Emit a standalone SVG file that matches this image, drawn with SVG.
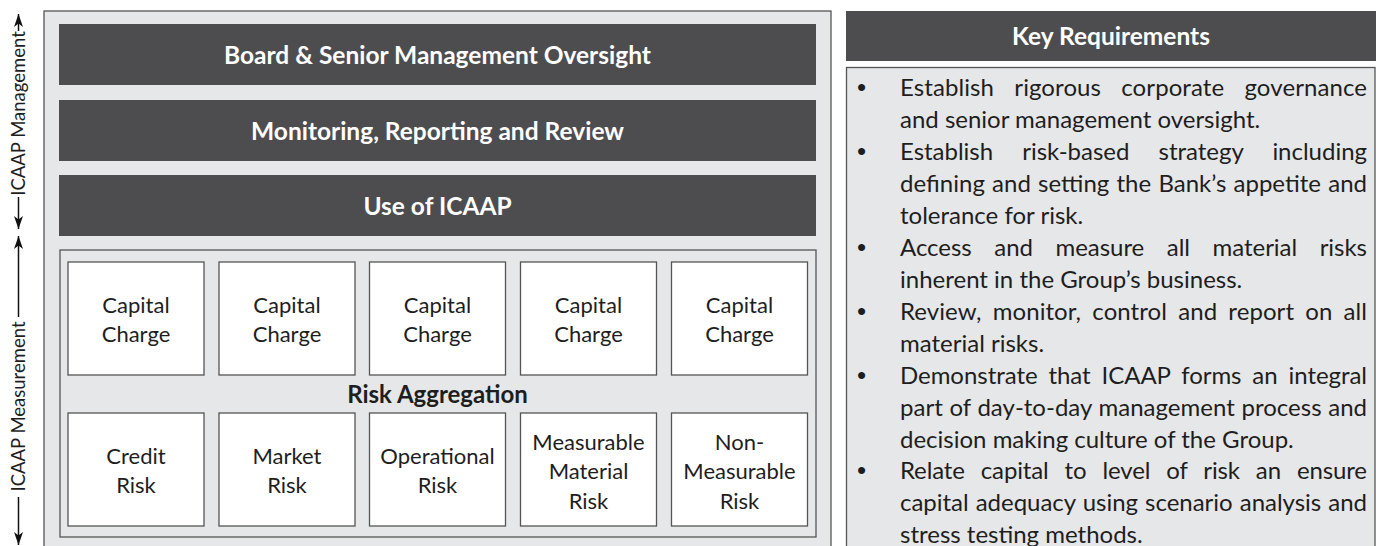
<svg xmlns="http://www.w3.org/2000/svg" width="1376" height="546" viewBox="0 0 1376 546">
<style>
text{font-family:Lato,"Liberation Sans",sans-serif;fill:#1e1e1e}
.bar{fill:#4d4d4f}
.bt{font-size:24.5px;font-weight:bold;fill:#fff;text-anchor:middle}
.box{fill:#fff;stroke:#555;stroke-width:1.3}
.bx{font-size:22px;text-anchor:middle}
.pan{fill:#e6e7e8;stroke:#555;stroke-width:1.3}
.b{font-size:24px}
.dot{font-family:"Liberation Sans",sans-serif;font-size:26px}
.side{font-size:18.5px;text-anchor:middle}
.ax{stroke:#111;stroke-width:1.5;fill:none}
</style>
<defs>
<marker id="ah" markerUnits="userSpaceOnUse" markerWidth="16" markerHeight="12" viewBox="-13 -6 16 12" refX="0" refY="0" orient="auto-start-reverse">
<path d="M0,0 L-13,-4.5 L-9.5,0 L-13,4.5 Z" fill="#111"/>
</marker>
</defs>

<g id="side-labels">
<g id="connectors">
<line class="ax" x1="18.5" y1="14" x2="18.5" y2="31" marker-start="url(#ah)"/>
<line class="ax" x1="18.5" y1="197" x2="18.5" y2="229" marker-end="url(#ah)"/>
<line class="ax" x1="18.5" y1="236" x2="18.5" y2="317" marker-start="url(#ah)"/>
<line class="ax" x1="18.5" y1="497" x2="18.5" y2="545" marker-end="url(#ah)"/>
</g>
<text class="side" transform="translate(25 113.5) rotate(-90)">ICAAP Management</text>
<text class="side" transform="translate(25 406.5) rotate(-90)">ICAAP Measurement</text>
</g>

<g id="left-panel">
<rect class="pan" x="44" y="11" width="787" height="560"/>
<g id="board"><rect class="bar" x="59" y="24" width="757" height="61"/><text class="bt" x="437.5" y="63.5">Board &amp; Senior Management Oversight</text></g>
<g id="monitoring"><rect class="bar" x="59" y="100" width="757" height="61"/><text class="bt" x="437.5" y="139.5">Monitoring, Reporting and Review</text></g>
<g id="use"><rect class="bar" x="59" y="175" width="757" height="61"/><text class="bt" x="437.5" y="214.5">Use of ICAAP</text></g>
<g id="aggregation">
<rect class="pan" x="60" y="250" width="756" height="287"/>
<text x="437.5" y="403" style="font-size:24px;font-weight:bold;text-anchor:middle">Risk Aggregation</text>
</g>
<g id="cc1"><rect class="box" x="68" y="262" width="136" height="113"/><text class="bx" x="136" y="313">Capital</text><text class="bx" x="136" y="342">Charge</text></g>
<g id="cc2"><rect class="box" x="219" y="262" width="136" height="113"/><text class="bx" x="287" y="313">Capital</text><text class="bx" x="287" y="342">Charge</text></g>
<g id="cc3"><rect class="box" x="369.5" y="262" width="136" height="113"/><text class="bx" x="437.5" y="313">Capital</text><text class="bx" x="437.5" y="342">Charge</text></g>
<g id="cc4"><rect class="box" x="520.5" y="262" width="136" height="113"/><text class="bx" x="588.5" y="313">Capital</text><text class="bx" x="588.5" y="342">Charge</text></g>
<g id="cc5"><rect class="box" x="671.5" y="262" width="136" height="113"/><text class="bx" x="739.5" y="313">Capital</text><text class="bx" x="739.5" y="342">Charge</text></g>
<g id="credit"><rect class="box" x="68" y="413" width="136" height="113"/><text class="bx" x="136" y="463.5">Credit</text><text class="bx" x="136" y="493">Risk</text></g>
<g id="market"><rect class="box" x="219" y="413" width="136" height="113"/><text class="bx" x="287" y="463.5">Market</text><text class="bx" x="287" y="493">Risk</text></g>
<g id="operational"><rect class="box" x="369.5" y="413" width="136" height="113"/><text class="bx" x="437.5" y="463.5">Operational</text><text class="bx" x="437.5" y="493">Risk</text></g>
<g id="measurable"><rect class="box" x="520.5" y="413" width="136" height="113"/><text class="bx" x="588.5" y="449.5">Measurable</text><text class="bx" x="588.5" y="479">Material</text><text class="bx" x="588.5" y="508.5">Risk</text></g>
<g id="nonmeasurable"><rect class="box" x="671.5" y="413" width="136" height="113"/><text class="bx" x="739.5" y="449.5">Non-</text><text class="bx" x="739.5" y="479">Measurable</text><text class="bx" x="739.5" y="508.5">Risk</text></g>
</g>

<g id="key-requirements">
<rect class="bar" x="846" y="11" width="531" height="50"/>
<text class="bt" x="1111" y="45">Key Requirements</text>
<rect class="pan" x="846.5" y="67.5" width="528.5" height="500"/>
<g id="bullets">
<text class="dot" x="857" y="96">•</text>
<text class="dot" x="857" y="160">•</text>
<text class="dot" x="857" y="256">•</text>
<text class="dot" x="857" y="320">•</text>
<text class="dot" x="857" y="384">•</text>
<text class="dot" x="857" y="479">•</text>
</g>
<g id="items">
<text class="b" x="900" y="96" textLength="467" lengthAdjust="spacing" style="word-spacing:14px">Establish rigorous corporate governance</text>
<text class="b" x="900" y="128">and senior management oversight.</text>
<text class="b" x="900" y="160" textLength="467" lengthAdjust="spacing" style="word-spacing:23px">Establish risk-based strategy including</text>
<text class="b" x="900" y="192" textLength="467" lengthAdjust="spacing" style="word-spacing:1px">defining and setting the Bank’s appetite and</text>
<text class="b" x="900" y="224">tolerance for risk.</text>
<text class="b" x="900" y="256" textLength="467" lengthAdjust="spacing" style="word-spacing:16.5px">Access and measure all material risks</text>
<text class="b" x="900" y="288">inherent in the Group’s business.</text>
<text class="b" x="900" y="320" textLength="467" lengthAdjust="spacing" style="word-spacing:5px">Review, monitor, control and report on all</text>
<text class="b" x="900" y="352">material risks.</text>
<text class="b" x="900" y="384" textLength="467" lengthAdjust="spacing" style="word-spacing:4.8px">Demonstrate that ICAAP forms an integral</text>
<text class="b" x="900" y="416" textLength="467" lengthAdjust="spacing" style="word-spacing:0.5px">part of day-to-day management process and</text>
<text class="b" x="900" y="448">decision making culture of the Group.</text>
<text class="b" x="900" y="479" textLength="467" lengthAdjust="spacing" style="word-spacing:10px">Relate capital to level of risk an ensure</text>
<text class="b" x="900" y="511" textLength="467" lengthAdjust="spacing" style="word-spacing:1px">capital adequacy using scenario analysis and</text>
<text class="b" x="900" y="543">stress testing methods.</text>
</g>
</g>
</svg>
